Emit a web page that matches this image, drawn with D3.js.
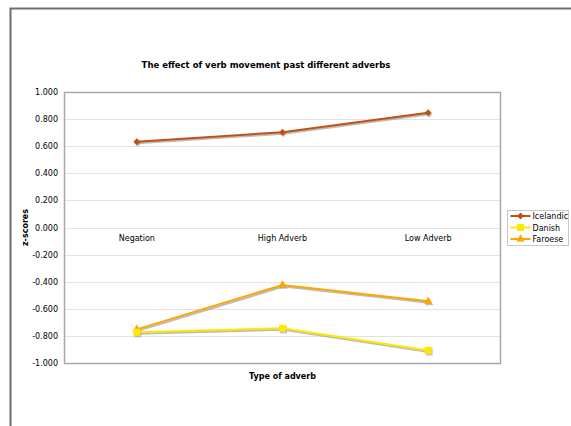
<!DOCTYPE html>
<html><head><meta charset="utf-8">
<script src="https://cdn.jsdelivr.net/npm/d3@7"></script>
<style>body{margin:0;background:#fff;}svg{display:block;font-family:"DejaVu Sans",Verdana,sans-serif;}</style>
</head><body>
<script>
const categories = ["Negation", "High Adverb", "Low Adverb"];
const seriesNames = ["Icelandic", "Danish", "Faroese"];
const icelandic = [0.633, 0.703, 0.847];
const danish = [-0.773, -0.744, -0.907];
const faroese = [-0.752, -0.424, -0.545];
const yTicks = [1.0, 0.8, 0.6, 0.4, 0.2, 0.0, -0.2, -0.4, -0.6, -0.8, -1.0];
const colors = ["#C0500F", "#FFE800", "#FFA500"];
const title = "The effect of verb movement past different adverbs";
const xTitle = "Type of adverb";
const yTitle = "z-scores";

const W = 571, H = 426;
const svg = d3.select("body").append("svg").attr("width", W).attr("height", H);

// outer frame
svg.append("rect").attr("x", 10.5).attr("y", 8.5).attr("width", 600).attr("height", 500)
  .attr("fill", "#fff").attr("stroke", "#6e6e6e").attr("stroke-width", 2);

const plot = {l: 64, t: 92, r: 501, b: 363};
const x = d3.scaleBand().domain(categories).range([plot.l, plot.r]);
const y = d3.scaleLinear().domain([-1, 1]).range([plot.b, plot.t]);

// gridlines
svg.append("g").selectAll("line").data(yTicks).join("line")
  .attr("x1", plot.l).attr("x2", plot.r)
  .attr("y1", d => Math.round(y(d)) + 0.5).attr("y2", d => Math.round(y(d)) + 0.5)
  .attr("stroke", "#e2e2e2").attr("stroke-width", 1);

// plot border
svg.append("rect").attr("x", plot.l + 0.5).attr("y", plot.t + 0.5)
  .attr("width", plot.r - plot.l - 1).attr("height", plot.b - plot.t)
  .attr("fill", "none").attr("stroke", "#a8a8a8").attr("stroke-width", 1.5);

// y axis labels
const fmt = d3.format(".3f");
const yAxis = d3.axisLeft(y).tickValues(yTicks).tickFormat(d => fmt(d).replace("\u2212", "-")).tickSize(0).tickPadding(6);
const yg = svg.append("g").attr("transform", `translate(${plot.l},0)`).call(yAxis);
yg.select(".domain").remove();
yg.selectAll("text").attr("font-size", 8).attr("fill", "#000").attr("font-family", "DejaVu Sans");

// category labels at zero line
const xAxis = d3.axisBottom(x).tickSize(0).tickPadding(8);
const xg = svg.append("g").attr("transform", `translate(0,${y(0)})`).call(xAxis);
xg.select(".domain").remove();
xg.selectAll("text").attr("font-size", 8).attr("fill", "#000").attr("font-family", "DejaVu Sans");

const cx = d => x(d) + x.bandwidth() / 2;
const data = [icelandic, danish, faroese];
const line = d3.line().x((d, i) => cx(categories[i])).y(d => y(d));

function marker(g, k, px, py, col) {
  if (k === 0) {
    g.append("path").attr("d", "M0,-3.6L3.4,0L0,3.6L-3.4,0Z").attr("transform", `translate(${px},${py})`).attr("fill", col);
  } else if (k === 1) {
    g.append("rect").attr("x", px - 3.5).attr("y", py - 3.5).attr("width", 7).attr("height", 7).attr("fill", col);
  } else {
    g.append("path").attr("d", d3.symbol().type(d3.symbolTriangle).size(30)()).attr("transform", `translate(${px},${py})`).attr("fill", col);
  }
}

[0, 2, 1].forEach(k => {
  const g = svg.append("g");
  g.append("path").datum(data[k]).attr("d", line).attr("transform", "translate(1,1.5)")
    .attr("fill", "none").attr("stroke", "#a0a0a0").attr("stroke-width", 2).attr("opacity", 0.7);
  data[k].forEach((v, i) => marker(g.append("g").attr("transform", "translate(1,1.5)").attr("opacity", 0.6), k, cx(categories[i]), y(v), "#999"));
  g.append("path").datum(data[k]).attr("d", line)
    .attr("fill", "none").attr("stroke", colors[k]).attr("stroke-width", 2);
  data[k].forEach((v, i) => marker(g, k, cx(categories[i]), y(v), colors[k]));
});

// titles
svg.append("text").attr("x", 266).attr("y", 68).attr("text-anchor", "middle")
  .attr("font-size", 8.5).attr("font-weight", "bold").text(title);
svg.append("text").attr("x", (plot.l + plot.r) / 2).attr("y", 379).attr("text-anchor", "middle")
  .attr("font-size", 8).attr("font-weight", "bold").text(xTitle);
svg.append("text").attr("transform", `translate(28,${y(0)}) rotate(-90)`).attr("text-anchor", "middle")
  .attr("font-size", 8).attr("font-weight", "bold").text(yTitle);

// legend
const lg = svg.append("g").attr("transform", "translate(507.5,210.5)");
lg.append("rect").attr("width", 61).attr("height", 35).attr("fill", "#fff").attr("stroke", "#c8c8c8");
seriesNames.forEach((n, i) => {
  const yy = 5.5 + i * 11.5;
  lg.append("line").attr("x1", 3).attr("x2", 23).attr("y1", yy).attr("y2", yy).attr("stroke", colors[i]).attr("stroke-width", 2);
  marker(lg, i, 13, yy, colors[i]);
  lg.append("text").attr("x", 25).attr("y", yy + 3).attr("font-size", 8).text(n);
});
</script>
</body></html>
